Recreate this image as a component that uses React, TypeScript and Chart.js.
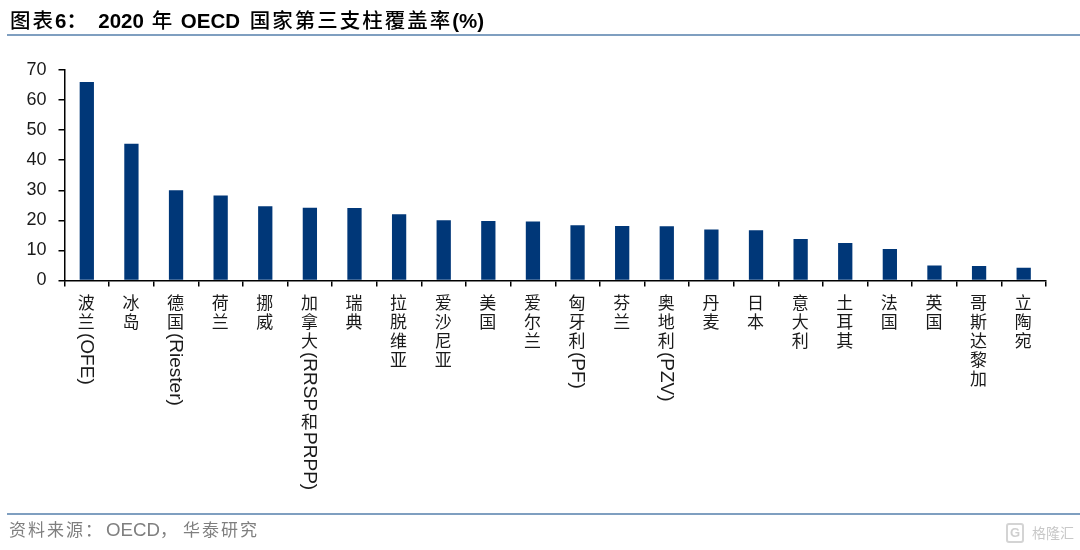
import React, { useEffect, useRef } from "react";
import { Chart, registerables } from "chart.js";

Chart.register(...registerables);

const categories = ["波兰(OFE)", "冰岛", "德国(Riester)", "荷兰", "挪威", "加拿大(RRSP和PRPP)", "瑞典", "拉脱维亚", "爱沙尼亚", "美国", "爱尔兰", "匈牙利(PF)", "芬兰", "奥地利(PZV)", "丹麦", "日本", "意大利", "土耳其", "法国", "英国", "哥斯达黎加", "立陶宛"];
const coverage = [66, 45.5, 30, 28.3, 24.7, 24.2, 24.1, 22, 20, 19.8, 19.6, 18.4, 18.1, 18, 17, 16.7, 13.8, 12.5, 10.5, 5, 4.8, 4.2];
const yTicks = [0, 10, 20, 30, 40, 50, 60, 70];

const LATIN_FONT = '19px "Liberation Sans", Arial, sans-serif';
const CJK_FONT = '17px "Noto Sans CJK SC", sans-serif';
const isCjk = (c: string) => /[\u3000-\u9fff]/.test(c);

const verticalLabels = {
  id: "verticalLabels",
  afterDraw(chart: any) {
    const { ctx } = chart;
    const scale = chart.scales.x;
    ctx.save();
    ctx.fillStyle = "#1a1a1a";
    categories.forEach((label, i) => {
      const x = scale.getPixelForValue(i) - 0.5;
      let y = 293.5;
      const runs = label.match(/[\u3000-\u9fff]|[^\u3000-\u9fff]+/g) || [];
      runs.forEach((run) => {
        if (isCjk(run)) {
          ctx.font = CJK_FONT;
          ctx.textAlign = "center";
          ctx.textBaseline = "middle";
          ctx.fillText(run, x, y + 9.5);
          y += 19;
        } else {
          y += 1.5;
          ctx.font = LATIN_FONT;
          const w = ctx.measureText(run).width;
          ctx.save();
          ctx.translate(x, y);
          ctx.rotate(Math.PI / 2);
          ctx.textAlign = "left";
          ctx.textBaseline = "middle";
          ctx.fillText(run, 0, 0);
          ctx.restore();
          y += w + 0.5;
        }
      });
    });
    ctx.restore();
  },
};

const pageText: React.CSSProperties = {
  position: "absolute",
  whiteSpace: "pre",
  fontFamily: '"Liberation Sans", "Noto Sans CJK SC", sans-serif',
};

export default function App() {
  const ref = useRef<HTMLCanvasElement>(null);
  useEffect(() => {
    document.body.style.margin = "0";
    const chart = new Chart(ref.current!, {
      type: "bar",
      data: {
        labels: categories,
        datasets: [{ data: coverage, backgroundColor: "#003778", barPercentage: 0.32, categoryPercentage: 1 }],
      },
      options: {
        animation: false,
        responsive: false,
        layout: { padding: { top: 70, right: 34, bottom: 0, left: 0 } },
        plugins: { legend: { display: false }, tooltip: { enabled: false } },
        scales: {
          x: {
            offset: true,
            grid: { offset: true, drawOnChartArea: false, tickLength: 6, color: "#000", lineWidth: 1.5 },
            border: { color: "#000", width: 1.5 },
            ticks: { display: false },
            afterFit: (s: any) => { s.height = 550 - 280.5; },
          },
          y: {
            min: 0,
            max: 70,
            afterBuildTicks: (s: any) => { s.ticks = yTicks.map((value) => ({ value })); },
            grid: { drawOnChartArea: false, tickLength: 6, color: "#000", lineWidth: 1.5 },
            border: { color: "#000", width: 1.5 },
            ticks: { color: "#1a1a1a", padding: 12, font: { family: '"Liberation Sans", Arial, sans-serif', size: 18 } },
            afterFit: (s: any) => { s.width = 64.5; },
          },
        },
      },
      plugins: [verticalLabels],
    } as any);
    return () => chart.destroy();
  }, []);

  const cjk: React.CSSProperties = { fontFamily: '"Noto Sans CJK SC", sans-serif', fontWeight: 500, letterSpacing: 2 };
  return (
    <div style={{ position: "relative", width: 1080, height: 550, background: "#fff", overflow: "hidden" }}>
      <canvas ref={ref} width={1080} height={550} style={{ position: "absolute", left: 0, top: 0 }} />
      <div style={{ ...pageText, left: 10, top: 7, fontSize: 20.5, lineHeight: "24px", fontWeight: 700, color: "#000" }}>
        <span style={cjk}>图表</span>6：{"  "}2020 <span style={{ ...cjk, marginLeft: 2 }}>年</span> <span style={{ marginLeft: 1 }}>OECD</span> <span style={{ ...cjk, marginLeft: 4 }}>国家第三支柱覆盖率</span>(%)
      </div>
      <div style={{ position: "absolute", left: 7, right: 0, top: 33.5, height: 2, background: "#7f9fc0" }} />
      <div style={{ position: "absolute", left: 7, right: 0, top: 513, height: 2, background: "#7f9fc0" }} />
      <div style={{ ...pageText, left: 9, top: 519, fontSize: 18.7, lineHeight: "21px", color: "#7f7f7f" }}>
        <span style={{ letterSpacing: 2, fontSize: 17, marginRight: 2 }}>资料来源：</span>OECD<span style={{ fontSize: 17 }}>，</span><span style={{ letterSpacing: 2, fontSize: 17, marginLeft: 6 }}>华泰研究</span>
      </div>
      <div style={{ position: "absolute", left: 1006, top: 523, width: 14, height: 16, border: "2px solid #d4d4d4", borderRadius: 3, color: "#cfcfcf", fontFamily: '"Liberation Sans", sans-serif', fontSize: 13, fontWeight: 700, lineHeight: "16px", textAlign: "center" }}>G</div>
      <div style={{ ...pageText, left: 1032, top: 523, fontSize: 14, lineHeight: "20px", color: "#c8c8c8" }}>格隆汇</div>
    </div>
  );
}
